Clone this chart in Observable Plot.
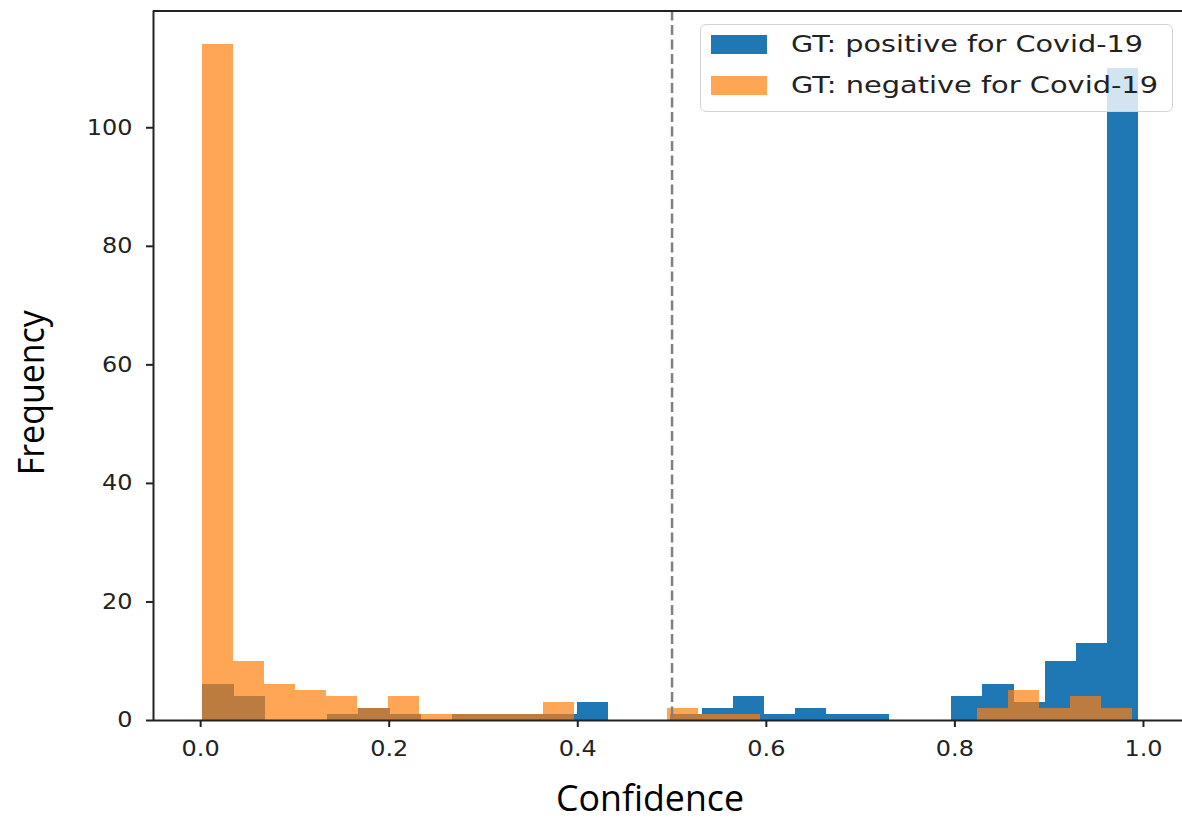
<!DOCTYPE html>
<html>
<head>
<meta charset="utf-8">
<script src="https://cdn.jsdelivr.net/npm/d3@7"></script>
<script src="https://cdn.jsdelivr.net/npm/@observablehq/plot@0.6"></script>
<style>
  html, body { margin: 0; padding: 0; background: #fff; }
  #wrap { position: relative; width: 1182px; height: 826px; overflow: hidden; }
  #legend { position: absolute; left: 700px; top: 24px; width: 471px; height: 86px;
    background: rgba(255,255,255,0.8); border: 1.5px solid #d4d4d4; border-radius: 6px;
    font-family: "DejaVu Sans", sans-serif; font-size: 23px; color: #222; }
  .item { position: absolute; left: 10px; height: 19px; }
  .sw { position: absolute; left: 0; top: 0; width: 56px; height: 19px; }
  .lab { position: absolute; left: 80px; top: -5px; white-space: nowrap; line-height: 28px;
    transform-origin: 0 50%; }
</style>
</head>
<body>
<div id="wrap"></div>
<script>
// Histogram counts (30 bins per series)
const blueLabel = "GT: positive for Covid-19";
const orangeLabel = "GT: negative for Covid-19";
const blueCounts = [6,4,0,0,1,2,1,0,1,1,1,1,3,0,0,1,2,4,1,2,1,1,0,0,4,6,3,10,13,110];
const orangeCounts = [114,10,6,5,4,2,4,1,1,1,1,3,0,0,0,2,1,1,0,0,0,0,0,0,0,2,5,2,4,2];
// data range of each series (matplotlib bins span min..max)
const blueRange = [0.0024, 0.9951];
const orangeRange = [0.0018, 0.9887];
const xTicks = [0.0, 0.2, 0.4, 0.6, 0.8, 1.0];
const yTicks = [0, 20, 40, 60, 80, 100];
const threshold = 0.5;

function bins(counts, range) {
  const w = (range[1] - range[0]) / counts.length;
  return counts.map((c, i) => ({x1: range[0] + i * w, x2: range[0] + (i + 1) * w, count: c}))
               .filter(d => d.count > 0);
}
const blueBins = bins(blueCounts, blueRange);
const orangeBins = bins(orangeCounts, orangeRange);
const yMax = d3.max([...blueCounts, ...orangeCounts]) * 1.05;
const xMin = -0.05, xMax = 1.0414;

const chart = Plot.plot({
  width: 1182,
  height: 826,
  marginLeft: 153,
  marginRight: 0,
  marginTop: 10.5,
  marginBottom: 106,
  style: {fontFamily: "DejaVu Sans, sans-serif", background: "transparent", color: "#222"},
  x: {domain: [xMin, xMax]},
  y: {domain: [0, yMax]},
  marks: [
    Plot.rectY(blueBins, {x1: "x1", x2: "x2", y1: 0, y2: "count", fill: "#1f77b4", shapeRendering: "crispEdges"}),
    Plot.rectY(orangeBins, {x1: "x1", x2: "x2", y1: 0, y2: "count", fill: "#ff7f0e", fillOpacity: 0.7, shapeRendering: "crispEdges"}),
    Plot.ruleX([threshold], {stroke: "#808080", strokeWidth: 2.5, strokeDasharray: "10,4.5"}),
    Plot.ruleX([xMin], {stroke: "#222", strokeWidth: 2}),
    Plot.ruleY([0], {stroke: "#222", strokeWidth: 2}),
    Plot.ruleY([yMax], {stroke: "#222", strokeWidth: 2}),
    Plot.axisX({ticks: xTicks, tickFormat: d3.format(".1f"), tickSize: 7, tickPadding: 14,
      fontSize: 21, strokeWidth: 2, label: null, fill: "#222"}),
    Plot.axisY({ticks: yTicks, tickSize: 7, tickPadding: 14, fontSize: 21, strokeWidth: 2, label: null, fill: "#222"}),
    Plot.text(["Confidence"], {frameAnchor: "bottom", dx: -18, dy: 90, fontSize: 37, fontFamily: "Open Sans",
      fill: "#000", className: "xlabel"}),
    Plot.text(["Frequency"], {frameAnchor: "left", textAnchor: "middle", dx: -121, dy: 27, rotate: -90, fontSize: 37,
      fontFamily: "Open Sans", fill: "#000", className: "ylabel"})
  ]
});

const wrap = document.getElementById("wrap");
wrap.appendChild(chart);
const svg = d3.select(chart);
svg.selectAll(".xlabel text").attr("textLength", 188).attr("lengthAdjust", "spacingAndGlyphs");
svg.selectAll(".ylabel text").attr("textLength", 165).attr("lengthAdjust", "spacingAndGlyphs");
// tick labels in the reference are slightly wider than plain DejaVu
svg.selectAll('g[aria-label="x-axis tick label"] text, g[aria-label="y-axis tick label"] text').each(function() {
  const len = this.getComputedTextLength();
  d3.select(this).attr("textLength", len * 1.14).attr("lengthAdjust", "spacingAndGlyphs");
});

// Legend drawn over the axes, semi-transparent like matplotlib
const legend = document.createElement("div");
legend.id = "legend";
const targetWidths = [352, 367];
[[blueLabel, "#1f77b4", 1, 10], [orangeLabel, "#ff7f0e", 0.7, 51]].forEach(([t, c, o, top], i) => {
  const it = document.createElement("div");
  it.className = "item"; it.style.top = top + "px";
  const sw = document.createElement("div");
  sw.className = "sw"; sw.style.background = c; sw.style.opacity = o;
  const lab = document.createElement("div");
  lab.className = "lab"; lab.textContent = t;
  it.appendChild(sw); it.appendChild(lab);
  legend.appendChild(it);
  lab.dataset.target = targetWidths[i];
});
wrap.appendChild(legend);
legend.querySelectorAll(".lab").forEach(lab => {
  const w = lab.getBoundingClientRect().width;
  lab.style.transform = `scaleX(${(+lab.dataset.target / w).toFixed(3)})`;
});
</script>
</body>
</html>
